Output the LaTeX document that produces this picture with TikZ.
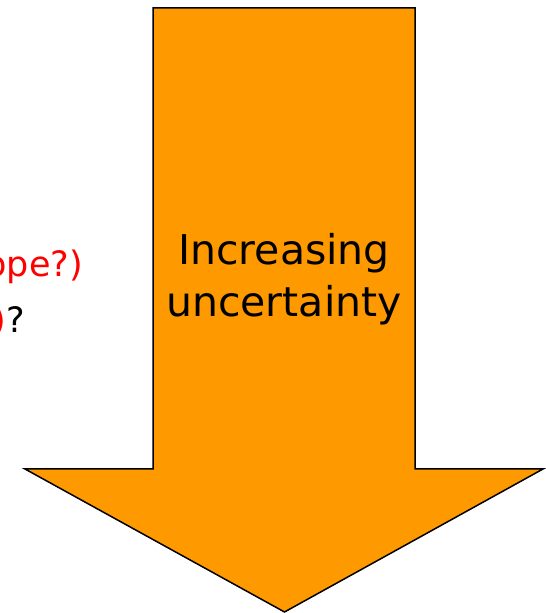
\documentclass[tikz,border=0pt]{standalone}
\usepackage{fontspec}
\setmainfont{DejaVu Sans}
\definecolor{arroworange}{RGB}{255,153,0}

\begin{document}
\begin{tikzpicture}[x=1pt, y=1pt, a/.style={draw, line width=1.5pt, fill=arroworange, line join=miter}, lbl/.style={font=\fontsize{41}{52}\selectfont, align=center}, side/.style={font=\fontsize{35}{42}\selectfont, inner sep=0pt}]
\useasboundingbox (0,0) rectangle (546,613);
\clip (0,0) rectangle (546,613);
\draw[a] (153,605) -- (415,605) -- (415,144) -- (543,144) -- (284.5,1) -- (25,144) -- (153,144) -- cycle;
\node[lbl, anchor=base] (inc) at (284,296) {Increasing\\ uncertainty};
\node[side, anchor=base east, text=red] (q1) at (83,336) {ope?)};
\node[side, anchor=base east] (q2) at (25,280) {{\color{red})}?};
\end{tikzpicture}
\end{document}
